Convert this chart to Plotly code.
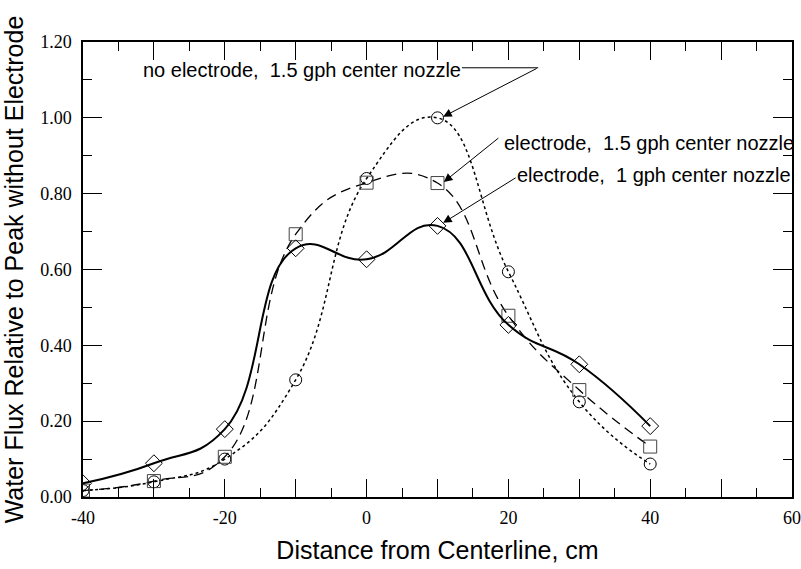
import plotly.graph_objects as go

distance_cm = [-40, -30, -20, -10, 0, 10, 20, 30, 40]
no_electrode_15gph = [0.017, 0.040, 0.100, 0.309, 0.840, 1.000, 0.594, 0.251, 0.087]
electrode_15gph = [0.017, 0.042, 0.106, 0.693, 0.829, 0.828, 0.478, 0.282, 0.133]
electrode_1gph = [0.036, 0.089, 0.179, 0.656, 0.627, 0.715, 0.454, 0.350, 0.187]

x_tickvals = [-40, -30, -20, -10, 0, 10, 20, 30, 40, 50, 60]
x_ticktext = ["-40", "", "-20", "", "0", "", "20", "", "40", "", "60"]
y_tickvals = [0.0, 0.2, 0.4, 0.6, 0.8, 1.0, 1.2]
y_ticktext = ["0.00", "0.20", "0.40", "0.60", "0.80", "1.00", "1.20"]

fig = go.Figure()

fig.add_trace(go.Scatter(
    x=distance_cm, y=no_electrode_15gph, mode="lines+markers",
    name="no electrode, 1.5 gph center nozzle",
    line=dict(color="black", width=1.5, dash="3px,3px", shape="spline", smoothing=1.3),
    marker=dict(symbol="circle-open", size=12, color="black", line=dict(width=1, color="black")),
))
fig.add_trace(go.Scatter(
    x=distance_cm, y=electrode_15gph, mode="lines+markers",
    name="electrode, 1.5 gph center nozzle",
    line=dict(color="black", width=1.3, dash="10px,6px", shape="spline", smoothing=1.3),
    marker=dict(symbol="square-open", size=13, color="#444", line=dict(width=1, color="#444")),
))
fig.add_trace(go.Scatter(
    x=distance_cm, y=electrode_1gph, mode="lines+markers",
    name="electrode, 1 gph center nozzle",
    line=dict(color="black", width=2, shape="spline", smoothing=1.3),
    marker=dict(symbol="diamond-open", size=13, color="black", line=dict(width=1, color="black")),
))

ann_font = dict(family="Liberation Sans, Arial, sans-serif", size=20, color="black")

annotations = [
    dict(x=-9.1, y=1.127, xref="x", yref="y", text="no electrode,\u00a0 1.5 gph center nozzle",
         showarrow=False, font=ann_font, xanchor="center", yanchor="middle"),
    dict(x=10.8, y=1.003, xref="x", yref="y", text="", showarrow=True,
         ax=95, ay=-49, arrowhead=2, arrowsize=1.7, arrowwidth=1, arrowcolor="black", standoff=0),
    dict(x=39.9, y=0.934, xref="x", yref="y", text="electrode,\u00a0 1.5 gph center nozzle",
         showarrow=False, font=ann_font, xanchor="center", yanchor="middle"),
    dict(x=10.9, y=0.831, xref="x", yref="y", text="", showarrow=True,
         ax=56, ay=-45, arrowhead=2, arrowsize=1.7, arrowwidth=1, arrowcolor="black", standoff=0),
    dict(x=40.5, y=0.85, xref="x", yref="y", text="electrode,\u00a0 1 gph center nozzle",
         showarrow=False, font=ann_font, xanchor="center", yanchor="middle"),
    dict(x=10.8, y=0.723, xref="x", yref="y", text="", showarrow=True,
         ax=74, ay=-46, arrowhead=2, arrowsize=1.7, arrowwidth=1, arrowcolor="black", standoff=0),
]

fig.add_shape(type="line", xref="x", yref="y", x0=13.45, x1=24.2, y0=1.132, y1=1.132,
              line=dict(color="black", width=1))

fig.update_layout(
    width=801, height=569,
    margin=dict(l=83, r=9, t=42, b=72),
    paper_bgcolor="white", plot_bgcolor="white",
    showlegend=False,
    annotations=annotations,
    font=dict(family="Liberation Serif, Times New Roman, serif", size=15, color="black"),
)

fig.update_xaxes(
    range=[-40, 60], tickvals=x_tickvals, ticktext=x_ticktext,
    ticks="inside", ticklen=18, tickwidth=1, tickcolor="black",
    minor=dict(dtick=5, ticks="inside", ticklen=9, tickwidth=1, tickcolor="black"),
    showline=True, linecolor="black", linewidth=1.5, mirror="ticks",
    showgrid=False, zeroline=False,
    tickfont=dict(family="Liberation Serif, Times New Roman, serif", size=18),
    ticklabelstandoff=4,
    title=dict(text="Distance from Centerline, cm", standoff=14,
               font=dict(family="Liberation Sans, Arial, sans-serif", size=25)),
    automargin=False,
)
fig.update_yaxes(
    range=[0, 1.2], tickvals=y_tickvals, ticktext=y_ticktext,
    ticks="inside", ticklen=19, tickwidth=1, tickcolor="black",
    minor=dict(dtick=0.1, ticks="inside", ticklen=9, tickwidth=1, tickcolor="black"),
    showline=True, linecolor="black", linewidth=1.5, mirror="ticks",
    showgrid=False, zeroline=False,
    tickfont=dict(family="Liberation Serif, Times New Roman, serif", size=18),
    ticklabelstandoff=6,
    title=dict(text="Water Flux Relative to Peak without Electrode", standoff=10,
               font=dict(family="Liberation Sans, Arial, sans-serif", size=25)),
    automargin=False,
)

fig.write_html("out.html", config={"displayModeBar": False},
               post_script="document.body.style.margin='0';document.body.style.overflow='hidden';")
